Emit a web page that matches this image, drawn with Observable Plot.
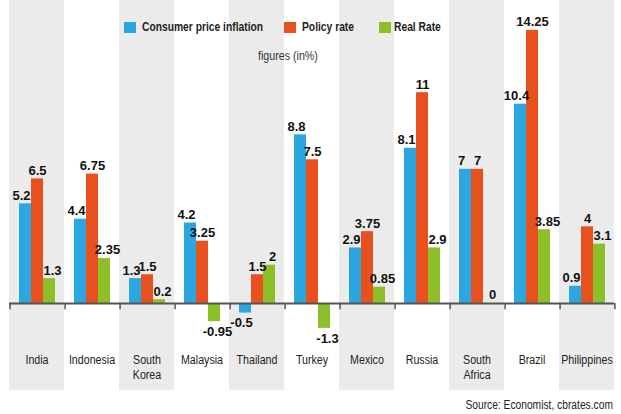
<!DOCTYPE html>
<html>
<head>
<meta charset="utf-8">
<script src="https://cdn.jsdelivr.net/npm/d3@7"></script>
<script src="https://cdn.jsdelivr.net/npm/@observablehq/plot@0.6"></script>
<style>
  html, body { margin: 0; padding: 0; background: #fff; }
  #wrap { position: relative; width: 621px; height: 414px; overflow: hidden; font-family: "Liberation Sans", Arial, sans-serif; }
  #wrap svg { position: absolute; left: 0; top: 0; overflow: visible; }
  .ov { position: absolute; white-space: nowrap; transform: scaleX(0.82); }
  .sw { position: absolute; width: 12px; height: 11px; }
  .lg { font-size: 12.7px; font-weight: bold; color: #222; line-height: 14px; transform-origin: left center; transform: scaleX(0.81); }
</style>
</head>
<body>
<div id="wrap"></div>
<script>
// ---- data ----
const countries = ["India", "Indonesia", "South Korea", "Malaysia", "Thailand", "Turkey", "Mexico", "Russia", "South Africa", "Brazil", "Philippines"];
const countryLabels = ["India", "Indonesia", "South\nKorea", "Malaysia", "Thailand", "Turkey", "Mexico", "Russia", "South\nAfrica", "Brazil", "Philippines"];
const seriesNames = ["Consumer price inflation", "Policy rate", "Real Rate"];
const cpi = [5.2, 4.4, 1.3, 4.2, -0.5, 8.8, 2.9, 8.1, 7, 10.4, 0.9];
const policyRate = [6.5, 6.75, 1.5, 3.25, 1.5, 7.5, 3.75, 11, 7, 14.25, 4];
const realRate = [1.3, 2.35, 0.2, -0.95, 2, -1.3, 0.85, 2.9, 0, 3.85, 3.1];
const seriesColors = ["#2aa7e0", "#e8501e", "#8dc028"];
const subtitle = "figures (in%)";
const source = "Source: Economist, cbrates.com";

// ---- table ----
const seriesValues = [cpi, policyRate, realRate];
const rows = [];
countries.forEach((c, i) => {
  seriesNames.forEach((s, j) => rows.push({country: c, series: s, value: seriesValues[j][i]}));
});
const labelOf = new Map(countries.map((c, i) => [c, countryLabels[i]]));

// ---- layout ----
const W = 621, H = 414;
const mL = 6, mR = 5, mT = 0, mB = 24;
const yDomain = [-4.54, 15.81];
const padOuter = 0.75;
const facetW = (W - mL - mR) / countries.length;
const step = facetW / (seriesNames.length + 2 * padOuter);
const labelDx = [-4, 0, 3];
const FONT = "'Liberation Sans', Arial, sans-serif";

const marks = [];
// alternating column backgrounds
marks.push(Plot.rect(countries.filter((d, i) => i % 2 === 0), {fx: d => d, y1: yDomain[0], y2: yDomain[1], fill: "#ebebeb"}));
// bars
marks.push(Plot.barY(rows, {fx: "country", x: "series", y: "value", fill: "series"}));
// zero line
marks.push(Plot.ruleY([0], {stroke: "#555", strokeWidth: 1.8}));
// ticks at column boundaries
marks.push(Plot.ruleX(countries, {fx: d => d, x: () => seriesNames[0], y1: 0, y2: -0.32, dx: -(padOuter * step + step / 2), stroke: "#555", strokeWidth: 1.5}));
marks.push(Plot.ruleX(countries.slice(-1), {fx: d => d, x: () => seriesNames[2], y1: 0, y2: -0.32, dx: (padOuter * step + step / 2), stroke: "#555", strokeWidth: 1.5}));
// value labels
seriesNames.forEach((s, j) => {
  const pos = rows.filter(r => r.series === s && r.value >= 0);
  const neg = rows.filter(r => r.series === s && r.value < 0);
  const common = {fx: "country", x: "series", y: "value", text: d => String(d.value), dx: labelDx[j],
    fill: "#111", fontSize: 13, fontWeight: "bold", fontFamily: FONT};
  marks.push(Plot.text(pos, {...common, lineAnchor: "bottom", dy: -4}));
  marks.push(Plot.text(neg, {...common, lineAnchor: "top", dy: 5}));
});
// category labels (last mark)
marks.push(Plot.text(countries, {fx: d => d, text: d => labelOf.get(d), frameAnchor: "bottom", lineAnchor: "top", dy: -37,
  fontSize: 13.5, lineHeight: 1.1, fill: "#222", fontFamily: FONT}));

const chart = Plot.plot({
  width: W, height: H,
  marginLeft: mL, marginRight: mR, marginTop: mT, marginBottom: mB,
  fx: {domain: countries, padding: 0, axis: null},
  x: {domain: seriesNames, paddingInner: 0, paddingOuter: padOuter, axis: null},
  y: {domain: yDomain, axis: null},
  color: {domain: seriesNames, range: seriesColors},
  style: {background: "transparent", overflow: "visible", fontFamily: FONT},
  marks
});

// narrow the category labels (Arial Narrow-like proportions)
const textGroups = chart.querySelectorAll("g[aria-label='text']");
const catGroup = textGroups[textGroups.length - 1];
if (catGroup) {
  catGroup.querySelectorAll("text").forEach(el => {
    const t = el.getAttribute("transform") || "";
    el.setAttribute("transform", t + " scale(0.79,1)");
  });
}

const wrap = document.getElementById("wrap");
wrap.appendChild(chart);

// legend overlay
const legendPos = [{sq: 124, tx: 142}, {sq: 284, tx: 302}, {sq: 379, tx: 394}];
seriesNames.forEach((s, j) => {
  const sq = document.createElement("div");
  sq.className = "sw";
  sq.style.left = legendPos[j].sq + "px";
  sq.style.top = "22px";
  sq.style.background = seriesColors[j];
  wrap.appendChild(sq);
  const t = document.createElement("div");
  t.className = "ov lg";
  t.style.left = legendPos[j].tx + "px";
  t.style.top = "20px";
  t.textContent = s;
  wrap.appendChild(t);
});
const sub = document.createElement("div");
sub.className = "ov";
sub.style.cssText = "left:258px;top:48px;font-size:13px;color:#333;line-height:15px;transform-origin:left center;";
sub.textContent = subtitle;
wrap.appendChild(sub);
const src = document.createElement("div");
src.className = "ov";
src.style.cssText = "right:8px;top:397px;font-size:12.5px;color:#222;line-height:16px;transform-origin:right center;";
src.textContent = source;
wrap.appendChild(src);
</script>
</body>
</html>
